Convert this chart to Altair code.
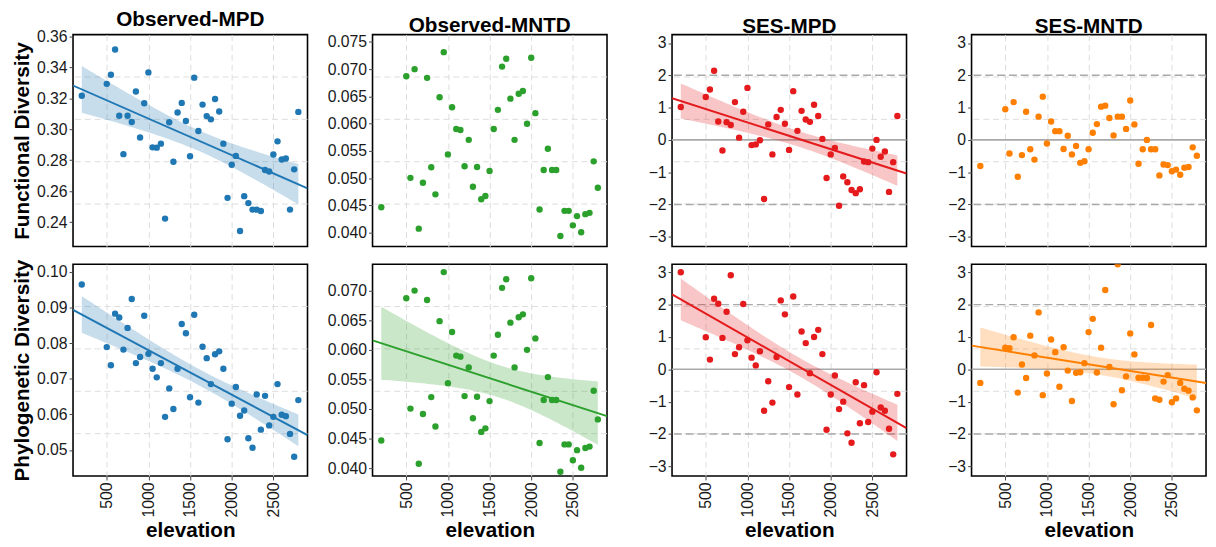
import altair as alt
import numpy as np
import pandas as pd

# ---------------- data ----------------
elevation = [200, 500, 550, 600, 650, 700, 750, 800, 850, 900,
             950, 1000, 1050, 1100, 1150, 1200, 1250, 1300, 1350, 1400,
             1450, 1500, 1550, 1600, 1650, 1700, 1750, 1800, 1850, 1900,
             1950, 2000, 2050, 2100, 2150, 2200, 2250, 2300, 2350, 2400,
             2450, 2500, 2550, 2600, 2650, 2700, 2750, 2800]

fd_obs_mpd = [0.3216, 0.3293, 0.3352, 0.3515, 0.3087, 0.2839, 0.3087, 0.3047, 0.3244, 0.2947,
              0.3168, 0.3367, 0.2883, 0.2881, 0.2907, 0.2423, 0.3045, 0.2790, 0.3108, 0.3170,
              0.3053, 0.2826, 0.3333, 0.2989, 0.3159, 0.3085, 0.3064, 0.3195, 0.3115, 0.2907,
              0.2557, 0.2771, 0.2828, 0.2343, 0.2568, 0.2523, 0.2481, 0.2481, 0.2472, 0.2737,
              0.2727, 0.2837, 0.2922, 0.2805, 0.2811, 0.2481, 0.2741, 0.3112]

obs_mntd = [0.04466, 0.0687, 0.05005, 0.0700, 0.04073, 0.04914, 0.0684, 0.0520, 0.04702, 0.06483,
            0.07312, 0.05435, 0.06301, 0.05901, 0.05883, 0.05217, 0.05702, 0.04842, 0.05205, 0.04612,
            0.04672, 0.05132, 0.05901, 0.06253, 0.07046, 0.07191, 0.06458, 0.05702, 0.06549, 0.06598,
            0.05998, 0.07209, 0.06192, 0.04424, 0.0515, 0.05538, 0.0515, 0.0515, 0.03939, 0.0440,
            0.0440, 0.04133, 0.04303, 0.04006, 0.04339, 0.04363, 0.05308, 0.04823]

fd_ses_mpd = [1.02, 1.33, 1.56, 2.14, 0.57, -0.33, 0.55, 0.46, 1.17, 0.07,
              0.87, 1.61, -0.16, -0.14, -0.01, -1.83, 0.48, -0.45, 0.71, 0.93,
              0.50, -0.31, 1.51, 0.28, 0.90, 0.63, 0.56, 1.09, 0.74, 0.03,
              -1.18, -0.45, -0.25, -2.04, -1.13, -1.31, -1.55, -1.65, -1.53, -0.67,
              -0.69, -0.27, 0.0, -0.52, -0.36, -1.61, -0.69, 0.74]

fd_ses_mntd = [-0.81, 0.95, -0.42, 1.17, -1.14, -0.47, 0.87, -0.29, -0.61, 0.72,
               1.34, -0.11, 0.57, 0.27, 0.27, -0.28, 0.13, -0.45, -0.19, -0.71,
               -0.66, -0.29, 0.22, 0.49, 1.03, 1.06, 0.68, 0.14, 0.72, 0.72,
               0.34, 1.22, 0.48, -0.74, -0.29, 0.0, -0.29, -0.29, -1.10, -0.76,
               -0.78, -0.97, -0.92, -1.08, -0.86, -0.84, -0.23, -0.49]

pd_obs_mpd = [0.0965, 0.0789, 0.0738, 0.0883, 0.0872, 0.0782, 0.0843, 0.0924, 0.0744, 0.0761,
              0.0877, 0.0770, 0.0728, 0.0704, 0.0744, 0.0593, 0.0673, 0.0615, 0.0728, 0.0854,
              0.0828, 0.0648, 0.0880, 0.0633, 0.0790, 0.0758, 0.0685, 0.0769, 0.0777, 0.0728,
              0.0530, 0.0630, 0.0677, 0.0596, 0.0611, 0.0533, 0.0506, 0.0656, 0.0557, 0.0652,
              0.0569, 0.0593, 0.0685, 0.0599, 0.0595, 0.0545, 0.0481, 0.0640]

pd_ses_mpd = [3.0, 0.99, 0.30, 2.18, 2.03, 0.97, 1.78, 2.91, 0.47, 0.68,
              2.02, 0.90, 0.36, 0.12, 0.56, -1.28, -0.37, -1.03, 0.38, 2.13,
              1.70, -0.55, 2.25, -0.78, 1.17, 0.81, -0.12, 1.0, 1.22, 0.47,
              -1.87, -0.78, -0.19, -1.23, -1.0, -1.98, -2.27, -0.40, -1.67, -0.49,
              -1.63, -1.31, -0.09, -1.18, -1.28, -1.84, -2.63, -0.76]

pd_ses_mntd = [-0.42, 0.67, 0.65, 0.99, -0.72, 0.15, -0.27, 1.04, 0.43, 1.76,
               -0.80, -0.13, 0.92, 0.53, -0.54, 0.68, -0.04, -0.98, -0.11, -0.09,
               0.19, 1.15, 1.56, -0.10, 0.67, 2.45, 0.07, -1.08, 3.25, -0.65,
               -0.22, 1.11, 0.46, -0.26, -0.26, -0.27, 1.37, -0.90, -0.94, -0.38,
               -0.18, -1.02, -0.90, -0.42, -0.60, -0.66, -0.87, -1.27]

column_titles = ["Observed-MPD", "Observed-MNTD", "SES-MPD", "SES-MNTD"]
row_titles = ["Functional Diversity", "Phylogenetic Diversity"]
x_ticks = [500, 1000, 1500, 2000, 2500]
ses_ticks = [-3, -2, -1, 0, 1, 2, 3]
ses_dashed = [-2, 2]
ses_solid = [0]

BLUE, GREEN, RED, ORANGE = "#1f77b4", "#2ca02c", "#e41a1c", "#ff7f00"
FONT = "Liberation Sans"
X_DOMAIN = [95, 2910]
W, H = 238, 215
T_CRIT = 2.013  # t(0.975, df=46)


def fit_frames(values):
    x = np.array(elevation, dtype=float)
    y = np.array(values, dtype=float)
    n = len(x)
    b, a = np.polyfit(x, y, 1)
    resid = y - (a + b * x)
    s = np.sqrt((resid ** 2).sum() / (n - 2))
    sxx = ((x - x.mean()) ** 2).sum()
    xs = np.linspace(min(elevation), max(elevation), 80)
    se = s * np.sqrt(1.0 / n + (xs - x.mean()) ** 2 / sxx)
    band = pd.DataFrame({"elevation": xs, "lo": a + b * xs - T_CRIT * se,
                         "hi": a + b * xs + T_CRIT * se})
    xl = np.array(X_DOMAIN, dtype=float)
    line = pd.DataFrame({"elevation": xl, "fit": a + b * xl})
    return band, line


def panel(values, color, ydomain, yticks, yfmt, fit, ses, row, col):
    df = pd.DataFrame({"elevation": elevation, "value": values})
    ys = alt.Scale(domain=ydomain, nice=False, zero=False)
    xs = alt.Scale(domain=X_DOMAIN, nice=False, zero=False)
    ext = 38 if col == 0 else 53
    yaxis = alt.Axis(values=yticks, format=yfmt, grid=False,
                     title=row_titles[row] if col == 0 else None,
                     minExtent=ext, maxExtent=ext, titlePadding=3)
    if row == 0:
        xaxis = alt.Axis(values=x_ticks, labels=False, ticks=False, domain=False,
                         title=None, grid=True, minExtent=0, maxExtent=0,
                         offset=0, labelPadding=0, titlePadding=0)
    else:
        xaxis = alt.Axis(values=x_ticks, format="d", labelAngle=270, title="elevation",
                         grid=True, titlePadding=3)

    lo, hi = ydomain
    gdf = pd.DataFrame({"g": [lo + k * (hi - lo) / 5 for k in (1, 2, 3, 4)]})
    layers = [alt.Chart(gdf).mark_rule(color="#dcdcdc", strokeDash=[6, 4], strokeWidth=1)
              .encode(y=alt.Y("g:Q", scale=ys, axis=yaxis))]
    if ses:
        layers.append(alt.Chart(pd.DataFrame({"r": ses_dashed}))
                      .mark_rule(color="#a9a9a9", strokeDash=[8, 4], strokeWidth=1.5)
                      .encode(y=alt.Y("r:Q", scale=ys, axis=yaxis)))
        layers.append(alt.Chart(pd.DataFrame({"r": ses_solid}))
                      .mark_rule(color="#a9a9a9", strokeWidth=1.6)
                      .encode(y=alt.Y("r:Q", scale=ys, axis=yaxis)))
    if fit:
        band, line = fit_frames(values)
        layers.append(alt.Chart(band).mark_area(color=color, opacity=0.25, clip=True)
                      .encode(x=alt.X("elevation:Q", scale=xs, axis=xaxis),
                              y=alt.Y("lo:Q", scale=ys, axis=yaxis), y2="hi:Q"))
        layers.append(alt.Chart(line).mark_line(color=color, strokeWidth=2, clip=True)
                      .encode(x=alt.X("elevation:Q", scale=xs, axis=xaxis),
                              y=alt.Y("fit:Q", scale=ys, axis=yaxis)))
    layers.append(alt.Chart(df).mark_circle(color=color, size=42, opacity=1, clip=True)
                  .encode(x=alt.X("elevation:Q", scale=xs, axis=xaxis),
                          y=alt.Y("value:Q", scale=ys, axis=yaxis)))
    ch = alt.layer(*layers).properties(width=W, height=H)
    if row == 0:
        ch = ch.properties(title=alt.Title(column_titles[col], fontSize=21,
                                           fontWeight="bold", offset=-2))
    return ch


r1 = [
    panel(fd_obs_mpd, BLUE, [0.2243, 0.3611], [0.24, 0.26, 0.28, 0.30, 0.32, 0.34, 0.36], ".2f", True, False, 0, 0),
    panel(obs_mntd, GREEN, [0.03746, 0.07633], [0.040, 0.045, 0.050, 0.055, 0.060, 0.065, 0.070, 0.075], ".3f", False, False, 0, 1),
    panel(fd_ses_mpd, RED, [-3.3, 3.26], ses_ticks, "d", True, True, 0, 2),
    panel(fd_ses_mntd, ORANGE, [-3.3, 3.26], ses_ticks, "d", False, True, 0, 3),
]
r2 = [
    panel(pd_obs_mpd, BLUE, [0.04267, 0.1022], [0.05, 0.06, 0.07, 0.08, 0.09, 0.10], ".2f", True, False, 1, 0),
    panel(obs_mntd, GREEN, [0.03866, 0.07446], [0.040, 0.045, 0.050, 0.055, 0.060, 0.065, 0.070], ".3f", True, False, 1, 1),
    panel(pd_ses_mpd, RED, [-3.3, 3.25], ses_ticks, "d", True, True, 1, 2),
    panel(pd_ses_mntd, ORANGE, [-3.3, 3.25], ses_ticks, "d", True, True, 1, 3),
]

chart = alt.vconcat(alt.hconcat(*r1, spacing=10), alt.hconcat(*r2, spacing=10), spacing=11)
chart = (chart
         .properties(padding={"left": 3, "top": -4, "right": 0, "bottom": 0})
         .configure_view(stroke="black", strokeWidth=1.6)
         .configure_axis(labelFont=FONT, titleFont=FONT, labelFontSize=16, labelColor="#1a1a1a",
                         tickColor="#444444", tickSize=4, titleFontSize=21, titleFontWeight="bold",
                         titleColor="black", domain=False, gridColor="#dcdcdc", gridDash=[6, 4],
                         gridWidth=1)
         .configure_title(font=FONT, color="black", anchor="middle"))

chart.save("out.html", embed_options={"renderer": "svg", "actions": False})
